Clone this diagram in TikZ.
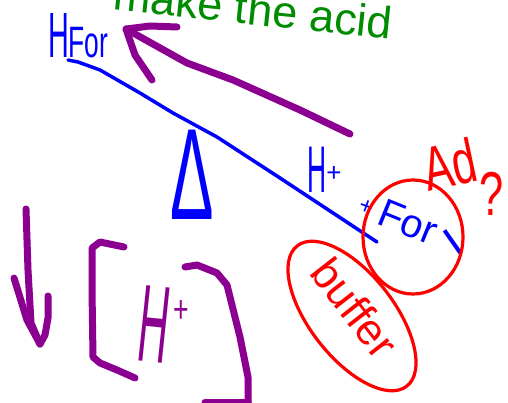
\documentclass[tikz,border=0pt]{standalone}
\usepackage{fontspec}
\setmainfont{Liberation Sans}
\definecolor{inkblue}{RGB}{0,0,255}
\definecolor{inkred}{RGB}{255,0,0}
\definecolor{inkpurple}{RGB}{140,0,145}
\definecolor{inkgreen}{RGB}{0,140,0}
\tikzset{
  stroke/.style={line cap=round, line join=round},
  bluestroke/.style={stroke, draw=inkblue, line width=3.5pt},
  redstroke/.style={stroke, draw=inkred, line width=3.2pt},
  purplestroke/.style={stroke, draw=inkpurple, line width=7pt},
  hand/.style={inner sep=0pt, outer sep=0pt},
}
\newcommand{\fs}[1]{\fontsize{#1}{#1}\selectfont}
\begin{document}
\begin{tikzpicture}[x=1pt,y=-1pt]
\clip (0,0) rectangle (508,403);
\fill[white] (0,0) rectangle (508,403);

% green heading (cut off at top)
\node[hand, text=inkgreen, anchor=base west, rotate=-6, font=\fs{45}] (heading) at (112,10) {make the acid};

% HFor
\node[hand, text=inkblue, anchor=base west] (hfor) at (48,58)
  {\fs{64}\scalebox{0.45}[1]{H}\fs{44}\scalebox{0.6}[1]{For}};

% blue equilibrium line
\coordinate (l0) at (68,60);
\coordinate (l1) at (377,242);
\draw[bluestroke] (l0) -- (78,62) -- (100,70) -- (140,93) -- (173,113) -- (217,137) -- (280,178) -- (l1);

% delta
\node[hand, text=inkblue, anchor=base, font=\fs{130}] (delta) at (192,220) {\scalebox{0.5}[1]{Δ}};

% H+ (blue)
\node[hand, text=inkblue, anchor=base, font=\fs{66}] (hplusb) at (317,193) {\scalebox{0.4}[1]{H}};
\node[hand, text=inkblue, font=\fs{26}] (plusb) at (334,174) {+};

% + For -
\node[hand, text=inkblue, font=\fs{24}, rotate=-20] (plusf) at (366,207) {+};
\node[hand, text=inkblue, font=\fs{40}, rotate=-22] (for) at (408,222) {For};
\node[hand, text=inkblue, font=\fs{58}, rotate=-55] (minus) at (446,247) {−};

% red circle around For-
\draw[redstroke] (413,237) ellipse [x radius=50, y radius=57];

% Ad ?
\node[hand, text=inkred, anchor=base west, rotate=12, font=\fs{62}] (ad) at (428,192) {\scalebox{0.7}[1]{Ad}};
\node[hand, text=inkred, font=\fs{62}] (question) at (492,194) {\scalebox{0.7}[1]{?}};

% buffer ellipse
\draw[redstroke, rotate around={-52:(352,316)}] (352,316) ellipse [x radius=89, y radius=42];
\node[hand, text=inkred, rotate=-52, font=\fs{44}] (buffer) at (355,308) {buffer};

% purple arrow towards HFor
\coordinate (arrTail) at (350,134);
\coordinate (arrTip) at (126,29);
\draw[purplestroke] (arrTail) -- (300,110) -- (233,80) -- (187,63) -- (arrTip);
\draw[purplestroke] (177,27) -- (150,26) -- (arrTip) -- (135,55) -- (152,80);

% purple down arrow
\coordinate (downTop) at (26,209);
\coordinate (downTip) at (40,344);
\draw[purplestroke] (downTop) -- (28,270) -- (31,323) -- (downTip);
\draw[purplestroke] (14,278) -- (27,320) -- (downTip);
\draw[purplestroke] (48,296) -- (48,318) -- (45,335) -- (downTip);

% [H+]
\draw[purplestroke] (124,247) -- (100,242) -- (92,248) -- (92,290) -- (93,357) -- (100,363) -- (117,370) -- (135,378);
\draw[purplestroke] (185,267) -- (197,265) -- (217,273) -- (227,285) -- (240,337) -- (248,377) -- (248,410);
\draw[purplestroke] (205,402) -- (248,402);
\node[hand, text=inkpurple, anchor=base, rotate=-6, font=\fs{110}] (hion) at (151,362) {\scalebox{0.38}[1]{H}};
\node[hand, text=inkpurple, font=\fs{38}] (hionplus) at (181,312) {\scalebox{0.7}[1]{+}};
\end{tikzpicture}
\end{document}
